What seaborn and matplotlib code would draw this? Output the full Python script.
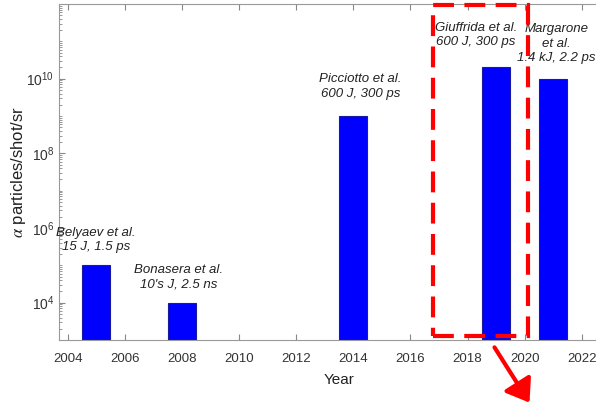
import numpy as np
import pandas as pd
import seaborn as sns
import matplotlib.pyplot as plt
from matplotlib.patches import Rectangle, FancyArrowPatch
from matplotlib.ticker import FixedLocator, LogLocator, NullFormatter

years = [2005, 2008, 2014, 2019, 2021]
alpha_yield = [1e5, 1e4, 1e9, 2.1e10, 1e10]

labels = [
    'Belyaev et al.\n15 J, 1.5 ps',
    "Bonasera et al.\n10's J, 2.5 ns",
    'Picciotto et al.\n600 J, 300 ps',
    'Giuffrida et al.\n600 J, 300 ps',
    'Margarone\net al.\n1.4 kJ, 2.2 ps',
]
label_x = [2005, 2007.9, 2014.25, 2018.3, 2021.1]
label_y = [4.8e5, 4.9e4, 6.3e9, 1.48e11, 8.6e10]

sns.set_style('ticks')
plt.rcParams['font.family'] = ['Liberation Sans', 'DejaVu Sans']
plt.rcParams['mathtext.fontset'] = 'stix'

df = pd.DataFrame({'year': years, 'alpha': alpha_yield})

fig = plt.figure(figsize=(5.96, 4.07), dpi=100)
ax = fig.add_axes([59 / 596, 67 / 407, 560 / 596, 336 / 407])

sns.barplot(data=df, x='year', y='alpha', native_scale=True, width=0.49,
            color='#0000ff', saturation=1, edgecolor='#1a1aa0', linewidth=0.8,
            ax=ax)
ax.set_yscale('log')
ax.set_ylim(1e3, 1e12)
ax.set_xlim(2003.7, 2023.3)

ax.xaxis.set_major_locator(FixedLocator(range(2004, 2024, 2)))
ax.yaxis.set_major_locator(FixedLocator([1e4, 1e6, 1e8, 1e10]))
ax.yaxis.set_minor_locator(LogLocator(base=10, subs=np.arange(1, 10), numticks=30))
ax.yaxis.set_minor_formatter(NullFormatter())

ax.tick_params(axis='both', which='both', direction='in', color='#888888',
               labelcolor='#333333', top=True)
ax.tick_params(axis='y', which='major', length=4, labelsize=10)
ax.tick_params(axis='y', which='minor', length=2)
ax.tick_params(axis='x', which='major', length=4, pad=9, labelsize=9.5)
for s in ax.spines.values():
    s.set_color('#999999')
    s.set_linewidth(0.8)

ax.set_xlabel('Year', fontsize=11, color='#222222', labelpad=6)
ax.set_ylabel(r'$\alpha$ particles/shot/sr', fontsize=12, color='#222222')
ax.yaxis.set_label_coords(-31 / 560, 0.5)

for tx, ty, t in zip(label_x, label_y, labels):
    ax.text(tx, ty, t, ha='center', va='center', fontsize=9.5, style='italic',
            color='#222222', linespacing=1.3)

# red dashed highlight box and arrow (figure coordinates)
rect = Rectangle((433 / 596, 71 / 407), 95 / 596, 331 / 407, transform=fig.transFigure,
                 fill=False, edgecolor='#ff0000', linewidth=3, linestyle=(0, (5, 2.5)),
                 clip_on=False)
fig.patches.append(rect)
arrow = FancyArrowPatch((493 / 596, 62 / 407), (531 / 596, 2 / 407),
                        transform=fig.transFigure, color='#ff0000', linewidth=3,
                        arrowstyle='-|>,head_length=7,head_width=5', mutation_scale=1.9)
fig.patches.append(arrow)

plt.savefig('out.png', dpi=100)
